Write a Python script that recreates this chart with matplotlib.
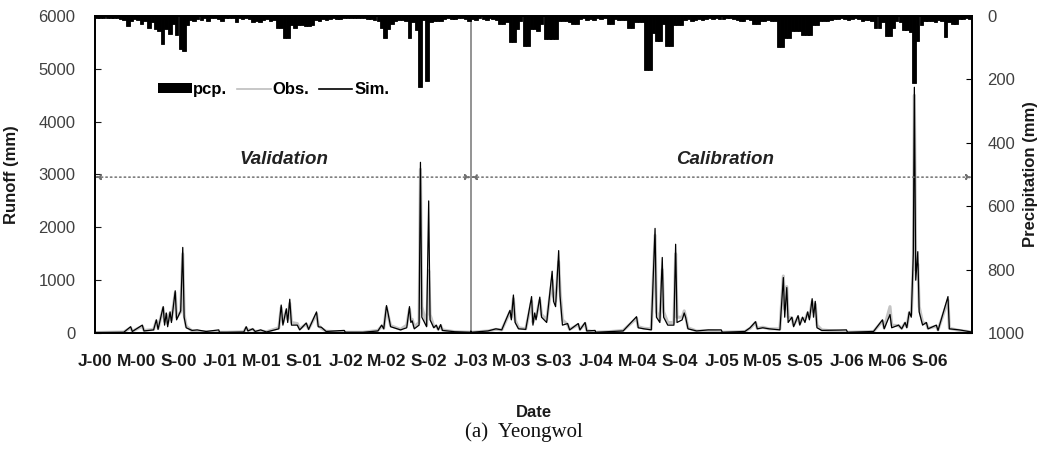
import matplotlib
matplotlib.use("Agg")
import matplotlib.pyplot as plt
from matplotlib.patches import Patch
from matplotlib.lines import Line2D
import pandas as pd

plt.rcParams['font.family'] = ['Liberation Sans', 'DejaVu Sans']

# precipitation (mm), one value per dekad (days 1, 11, 21 of each month)
pcp_2000 = [5, 6, 5, 6, 8, 5, 8, 10, 12, 32, 15, 10, 12, 25, 15, 37, 20, 41,
            47, 90, 40, 57, 25, 60, 105, 110, 30, 12, 15, 10, 12, 8, 15, 8, 6, 10]
pcp_2001 = [15, 8, 6, 8, 18, 8, 10, 8, 10, 18, 15, 20, 12, 10, 15, 12, 37, 37,
            69, 69, 30, 37, 28, 28, 33, 33, 30, 12, 15, 10, 12, 10, 8, 10, 10, 8]
pcp_2002 = [8, 6, 8, 6, 8, 6, 10, 10, 12, 15, 37, 69, 40, 25, 15, 12, 12, 15,
            69, 20, 45, 225, 12, 205, 20, 15, 15, 15, 10, 8, 10, 10, 8, 8, 10, 15]
pcp_2003 = [10, 12, 8, 10, 12, 8, 10, 12, 25, 25, 20, 83, 83, 40, 15, 95, 95, 40,
            40, 47, 25, 74, 74, 74, 74, 15, 15, 15, 20, 25, 25, 10, 8, 12, 10, 12]
pcp_2004 = [8, 10, 8, 25, 25, 10, 12, 12, 12, 37, 37, 20, 20, 20, 169, 169, 53, 79,
            79, 25, 95, 95, 30, 30, 30, 12, 10, 15, 12, 10, 12, 10, 8, 10, 8, 10]
pcp_2005 = [10, 8, 8, 10, 12, 15, 15, 10, 12, 25, 25, 15, 15, 12, 15, 15, 98, 98,
            70, 70, 47, 47, 47, 60, 60, 60, 30, 30, 15, 15, 15, 12, 10, 10, 8, 10]
pcp_2006 = [12, 10, 8, 10, 15, 12, 12, 15, 37, 37, 20, 63, 63, 37, 15, 20, 45, 45,
            50, 211, 80, 30, 15, 15, 15, 20, 12, 15, 66, 20, 25, 25, 10, 10, 8, 10]
pcp_years = [2000, 2001, 2002, 2003, 2004, 2005, 2006]

# runoff (mm): (date, simulated, observed)
runoff_2000 = [("2000-01-01", 10, 10), ("2000-03-25", 15, 20), ("2000-04-14", 120, 100),
               ("2000-04-19", 30, 35), ("2000-05-18", 150, 130), ("2000-05-23", 40, 50),
               ("2000-06-20", 60, 70), ("2000-06-28", 250, 230), ("2000-07-03", 70, 90),
               ("2000-07-18", 500, 470), ("2000-07-22", 150, 220), ("2000-07-27", 380, 350),
               ("2000-07-31", 120, 180), ("2000-08-07", 400, 380), ("2000-08-11", 200, 250),
               ("2000-08-22", 800, 760), ("2000-08-26", 250, 300), ("2000-09-07", 420, 400),
               ("2000-09-13", 1620, 1500), ("2000-09-17", 300, 350), ("2000-09-23", 100, 130),
               ("2000-10-10", 50, 40), ("2000-10-25", 60, 30), ("2000-11-20", 30, 25),
               ("2000-12-27", 60, 20), ("2000-12-29", 15, 15)]
runoff_2001 = [("2001-01-20", 15, 15), ("2001-03-10", 20, 25), ("2001-03-17", 120, 100),
               ("2001-03-22", 40, 50), ("2001-04-05", 80, 70), ("2001-04-12", 30, 30),
               ("2001-04-28", 60, 40), ("2001-05-15", 20, 25), ("2001-06-20", 80, 100),
               ("2001-06-27", 530, 480), ("2001-07-02", 150, 200), ("2001-07-12", 460, 420),
               ("2001-07-16", 200, 260), ("2001-07-22", 640, 560), ("2001-07-27", 150, 200),
               ("2001-08-13", 150, 180), ("2001-08-20", 60, 80), ("2001-09-08", 190, 170),
               ("2001-09-15", 70, 80), ("2001-10-08", 400, 360), ("2001-10-13", 120, 150),
               ("2001-10-22", 110, 90), ("2001-11-05", 30, 35), ("2001-12-28", 50, 20),
               ("2001-12-31", 15, 15)]
runoff_2002 = [("2002-02-20", 15, 15), ("2002-04-05", 40, 50), ("2002-04-16", 150, 130),
               ("2002-04-22", 80, 90), ("2002-04-30", 520, 480), ("2002-05-05", 360, 330),
               ("2002-05-12", 120, 140), ("2002-06-10", 60, 70), ("2002-06-28", 100, 150),
               ("2002-07-06", 500, 450), ("2002-07-10", 200, 250), ("2002-07-14", 230, 260),
               ("2002-07-20", 80, 120), ("2002-08-03", 150, 200), ("2002-08-07", 3230, 3100),
               ("2002-08-11", 300, 500), ("2002-08-25", 120, 150), ("2002-08-31", 2500, 1180),
               ("2002-09-04", 250, 350), ("2002-09-15", 100, 120), ("2002-09-22", 150, 130),
               ("2002-09-28", 60, 70), ("2002-10-05", 160, 140), ("2002-10-10", 50, 60),
               ("2002-11-15", 25, 25), ("2002-12-31", 15, 15)]
runoff_2003 = [("2003-01-01", 40, 15), ("2003-01-03", 15, 15), ("2003-02-20", 40, 40),
               ("2003-03-15", 80, 70), ("2003-04-01", 60, 60), ("2003-04-25", 430, 400),
               ("2003-04-29", 250, 300), ("2003-05-05", 720, 650), ("2003-05-10", 200, 250),
               ("2003-05-20", 80, 100), ("2003-06-10", 70, 80), ("2003-06-27", 690, 600),
               ("2003-07-01", 150, 200), ("2003-07-06", 380, 340), ("2003-07-10", 250, 300),
               ("2003-07-21", 680, 620), ("2003-07-26", 300, 350), ("2003-08-10", 200, 250),
               ("2003-08-26", 1170, 1000), ("2003-08-30", 600, 700), ("2003-09-05", 500, 600),
               ("2003-09-14", 1560, 1350), ("2003-09-18", 700, 800), ("2003-09-25", 150, 250),
               ("2003-10-10", 180, 160), ("2003-10-16", 60, 70), ("2003-11-10", 180, 160),
               ("2003-11-15", 60, 70), ("2003-11-30", 200, 180), ("2003-12-05", 40, 50),
               ("2003-12-29", 50, 20), ("2003-12-31", 15, 15)]
runoff_2004 = [("2004-02-15", 30, 30), ("2004-03-20", 40, 50), ("2004-04-28", 310, 280),
               ("2004-05-03", 100, 120), ("2004-05-20", 80, 90), ("2004-06-10", 60, 80),
               ("2004-06-21", 1980, 1850), ("2004-06-25", 300, 400), ("2004-07-05", 200, 250),
               ("2004-07-12", 1430, 1200), ("2004-07-16", 300, 400), ("2004-07-28", 150, 200),
               ("2004-08-15", 150, 200), ("2004-08-20", 1680, 1500), ("2004-08-24", 200, 300),
               ("2004-09-08", 250, 300), ("2004-09-14", 380, 420), ("2004-09-18", 300, 320),
               ("2004-09-25", 80, 100), ("2004-10-20", 40, 40), ("2004-11-23", 60, 40),
               ("2004-12-31", 60, 20)]
runoff_2005 = [("2005-01-03", 15, 15), ("2005-03-10", 30, 30), ("2005-03-25", 100, 90),
               ("2005-04-10", 215, 200), ("2005-04-15", 80, 90), ("2005-05-01", 100, 110),
               ("2005-05-20", 80, 80), ("2005-06-20", 60, 80), ("2005-06-30", 1050, 1080),
               ("2005-07-04", 300, 450), ("2005-07-10", 860, 880), ("2005-07-14", 200, 300),
               ("2005-07-25", 300, 280), ("2005-07-30", 120, 150), ("2005-08-12", 330, 300),
               ("2005-08-17", 150, 180), ("2005-08-25", 300, 280), ("2005-09-01", 200, 250),
               ("2005-09-09", 400, 380), ("2005-09-14", 250, 300), ("2005-09-22", 650, 600),
               ("2005-09-26", 300, 400), ("2005-10-01", 600, 550), ("2005-10-06", 100, 150),
               ("2005-10-20", 50, 60), ("2005-12-31", 60, 15)]
runoff_2006 = [("2006-01-03", 15, 15), ("2006-03-20", 30, 30), ("2006-04-15", 250, 230),
               ("2006-04-20", 80, 100), ("2006-05-07", 350, 500), ("2006-05-12", 100, 150),
               ("2006-06-01", 150, 140), ("2006-06-10", 80, 90), ("2006-06-20", 200, 190),
               ("2006-06-25", 100, 120), ("2006-07-02", 400, 380), ("2006-07-08", 300, 350),
               ("2006-07-14", 1500, 1300), ("2006-07-17", 4650, 4500), ("2006-07-21", 1000, 1200),
               ("2006-07-27", 1540, 1300), ("2006-07-31", 400, 500), ("2006-08-10", 150, 200),
               ("2006-08-21", 200, 180), ("2006-08-26", 80, 90), ("2006-09-19", 150, 130),
               ("2006-09-24", 50, 60), ("2006-10-23", 690, 620), ("2006-10-27", 80, 90),
               ("2006-11-25", 60, 50), ("2006-12-31", 20, 20)]

tick_labels = ["J-00", "M-00", "S-00", "J-01", "M-01", "S-01", "J-02", "M-02", "S-02",
               "J-03", "M-03", "S-03", "J-04", "M-04", "S-04", "J-05", "M-05", "S-05",
               "J-06", "M-06", "S-06"]

start = pd.Timestamp("2000-01-01")
split = pd.Timestamp("2003-01-01")
end = pd.Timestamp("2007-01-01")

# assemble series
pcp_dates, pcp_vals = [], []
for yr, vals in zip(pcp_years, [pcp_2000, pcp_2001, pcp_2002, pcp_2003,
                                 pcp_2004, pcp_2005, pcp_2006]):
    for i, v in enumerate(vals):
        pcp_dates.append(pd.Timestamp(yr, i // 3 + 1, [1, 11, 21][i % 3]))
        pcp_vals.append(v)

runoff = runoff_2000 + runoff_2001 + runoff_2002 + runoff_2003 + runoff_2004 + runoff_2005 + runoff_2006
run_dates = pd.to_datetime([r[0] for r in runoff])
sim = [r[1] for r in runoff]
obs = [r[2] for r in runoff]

fig = plt.figure(figsize=(10.4, 4.55), dpi=100)
ax = fig.add_axes([0.0913, 0.268, 0.8433, 0.697])

ax.plot(run_dates, obs, color='#c4c4c4', lw=2.2, zorder=2)
ax.plot(run_dates, sim, color='black', lw=0.9, zorder=3)
ax.axvline(split, color='#808080', lw=1.2, zorder=1)

arrow = dict(arrowstyle='<|-|>', linestyle=(0, (1, 2)), color='#707070', lw=1.1,
             mutation_scale=8, shrinkA=0, shrinkB=0)
ax.annotate('', xy=(split, 2950), xytext=(start, 2950), arrowprops=arrow)
ax.annotate('', xy=(end, 2950), xytext=(split, 2950), arrowprops=arrow)

ax.text(pd.Timestamp("2001-07-04"), 3275, 'Validation', fontsize=13.5, fontweight='bold',
        fontstyle='italic', ha='center', va='center', color='#222222')
ax.text(pd.Timestamp("2005-01-10"), 3275, 'Calibration', fontsize=13.5, fontweight='bold',
        fontstyle='italic', ha='center', va='center', color='#222222')

ax.set_xlim(start, end)
ax.set_ylim(0, 6000)
ax.set_yticks(range(0, 6001, 1000))
ax.set_xticks(pd.date_range(start, "2006-12-31", freq="4MS"))
ax.set_xticklabels(tick_labels, fontsize=12.5, fontweight='bold', color='#1a1a1a')
ax.tick_params(axis='x', length=0, pad=15)
ax.tick_params(axis='y', direction='in', length=4, labelsize=12, colors='#1a1a1a',
               labelcolor='#404040', pad=14)
ax.set_ylabel('Runoff (mm)', fontsize=12, fontweight='bold', color='#1a1a1a')
ax.yaxis.set_label_coords(-0.087, 0.5)

ax2 = ax.twinx()
ax2.bar(pcp_dates, pcp_vals, width=10.5, align='edge', color='black',
        edgecolor='black', lw=0.6, zorder=2)
ax2.set_ylim(1000, 0)
ax2.set_yticks(range(0, 1001, 200))
ax2.tick_params(axis='y', direction='in', length=4, labelsize=12, labelcolor='#404040', pad=11)
ax2.set_ylabel('Precipitation (mm)', fontsize=12, fontweight='bold', color='#1a1a1a',
               rotation=90)
ax2.yaxis.set_label_coords(1.058, 0.5)

for a in (ax, ax2):
    for s in a.spines.values():
        s.set_linewidth(1.3)
        s.set_color('black')

handles = [Patch(facecolor='black', edgecolor='black', lw=0),
           Line2D([], [], color='#bdbdbd', lw=1.2),
           Line2D([], [], color='black', lw=1.2)]
ax2.legend(handles, ['pcp.', 'Obs.', 'Sim.'], loc='center left', bbox_to_anchor=(0.055, 0.767),
           ncol=3, frameon=False, handlelength=2.0, handleheight=0.55, handletextpad=0.1,
           columnspacing=0.6, prop={'weight': 'bold', 'size': 12})

fig.text(0.513, 0.094, 'Date', fontsize=12, fontweight='bold', ha='center', va='center',
         color='#1a1a1a')
fig.text(0.504, 0.05, '(a)  Yeongwol', fontsize=15, family=['Liberation Serif', 'DejaVu Serif'],
         ha='center', va='center', color='#111111')

fig.savefig('out.png', dpi=100)
